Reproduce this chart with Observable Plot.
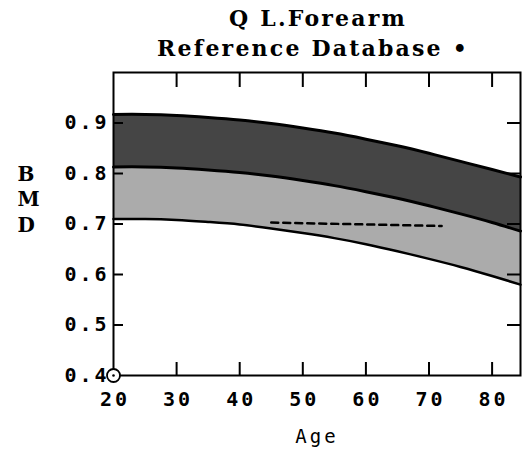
<!DOCTYPE html>
<html>
<head>
<meta charset="utf-8">
<script src="https://cdn.jsdelivr.net/npm/d3@7"></script>
<script src="https://cdn.jsdelivr.net/npm/@observablehq/plot@0.6"></script>
<style>
  html, body { margin: 0; padding: 0; background: #fff; }
  #chart svg { display: block; background: #fff; }
</style>
</head>
<body>
<div id="chart"></div>
<script>
// ---- data ----
const titleLine1 = "Q L.Forearm";
const titleLine2 = "Reference Database \u2022";
const xLabel = "Age";
const yLabel = "B\nM\nD";

const ages     = [20,    25,    30,    35,    40,    45,    50,    55,    60,    65,    70,    75,    80,    84.5];
const upperBMD = [0.917, 0.917, 0.915, 0.911, 0.906, 0.899, 0.890, 0.880, 0.868, 0.855, 0.840, 0.824, 0.808, 0.793];
const meanBMD  = [0.813, 0.813, 0.811, 0.807, 0.802, 0.795, 0.786, 0.776, 0.764, 0.751, 0.736, 0.720, 0.703, 0.686];
const lowerBMD = [0.710, 0.710, 0.708, 0.704, 0.699, 0.691, 0.682, 0.672, 0.660, 0.646, 0.631, 0.615, 0.597, 0.580];

const dashAges = [45, 72];
const dashBMD  = [0.703, 0.696];

const xTicks = [20, 30, 40, 50, 60, 70, 80];
const yTicks = [0.4, 0.5, 0.6, 0.7, 0.8, 0.9];
const innerXTicks = [30, 40, 50, 60, 70, 80];
const innerYTicks = [0.5, 0.6, 0.7, 0.8, 0.9];

const patient = [{age: 20, bmd: 0.4}];

// ---- build tables ----
const rows = ages.map((a, i) => ({age: a, upper: upperBMD[i], mean: meanBMD[i], lower: lowerBMD[i]}));
const dashRows = dashAges.map((a, i) => ({age: a, bmd: dashBMD[i]}));

const W = 522, H = 452, mL = 113, mR = 2, mT = 72, mB = 77;
const plotH = H - mT - mB;
const plotW = W - mL - mR;
const tickLen = 13;

const monoBold = "'DejaVu Sans Mono', monospace";
const slab = "'DejaVu Serif', serif";

const chart = Plot.plot({
  width: W,
  height: H,
  marginLeft: mL,
  marginRight: mR,
  marginTop: mT,
  marginBottom: mB,
  x: {domain: [20, 84.5], axis: null},
  y: {domain: [0.4, 1.0], axis: null},
  marks: [
    // bands
    Plot.areaY(rows, {x: "age", y1: "mean", y2: "upper", fill: "#454545", curve: "natural"}),
    Plot.areaY(rows, {x: "age", y1: "lower", y2: "mean", fill: "#ababab", curve: "natural"}),
    // dashed line inside the lower band
    Plot.line(dashRows, {x: "age", y: "bmd", stroke: "black", strokeWidth: 2.5, strokeDasharray: "7,5"}),
    // band boundary lines
    Plot.line(rows, {x: "age", y: "upper", stroke: "black", strokeWidth: 3, curve: "natural"}),
    Plot.line(rows, {x: "age", y: "mean", stroke: "black", strokeWidth: 3, curve: "natural"}),
    Plot.line(rows, {x: "age", y: "lower", stroke: "black", strokeWidth: 2.5, curve: "natural"}),
    // inward ticks
    Plot.ruleX(innerXTicks, {x: d => d, insetBottom: plotH - tickLen - 2, stroke: "black", strokeWidth: 2}),
    Plot.ruleX(innerXTicks, {x: d => d, insetTop: plotH - tickLen, stroke: "black", strokeWidth: 2}),
    Plot.ruleY(innerYTicks, {y: d => d, insetRight: plotW - 10, stroke: "black", strokeWidth: 2}),
    Plot.ruleY(innerYTicks, {y: d => d, insetLeft: plotW - 13, stroke: "black", strokeWidth: 2}),
    // frame
    Plot.frame({stroke: "black", strokeWidth: 2}),
    // tick labels
    Plot.text(xTicks, {x: d => d, frameAnchor: "bottom", dy: 24, dx: 1.5, text: d => String(d),
      fontFamily: monoBold, fontWeight: "bold", fontSize: 20, lineAnchor: "middle",
      fill: "black", className: "spaced"}),
    Plot.text(yTicks, {y: d => d, frameAnchor: "left", dx: -4, textAnchor: "end", text: d => d.toFixed(1),
      fontFamily: monoBold, fontWeight: "bold", fontSize: 20, lineAnchor: "middle", fill: "black",
      className: "spaced"}),
    // axis labels
    Plot.text([xLabel], {frameAnchor: "bottom", dy: 61, text: d => d, fontFamily: monoBold,
      fontSize: 19, lineAnchor: "middle", fill: "black", className: "spaced"}),
    Plot.text([yLabel], {frameAnchor: "left", dx: -96, dy: -26, text: d => d, fontFamily: slab,
      fontWeight: "bold", fontSize: 20, lineHeight: 1.27, lineAnchor: "middle", fill: "black"}),
    // titles
    Plot.text([titleLine1], {frameAnchor: "top", dy: -54, dx: 1, text: d => d, fontFamily: slab,
      fontWeight: "bold", fontSize: 22, lineAnchor: "middle", fill: "black", className: "title"}),
    Plot.text([titleLine2], {frameAnchor: "top", dy: -24, dx: -4, text: d => d, fontFamily: slab,
      fontWeight: "bold", fontSize: 22, lineAnchor: "middle", fill: "black", className: "title"}),
    // patient marker
    Plot.dot(patient, {x: "age", y: "bmd", r: 6.5, fill: "white", stroke: "black", strokeWidth: 1.8}),
    Plot.dot(patient, {x: "age", y: "bmd", r: 1.3, fill: "black"})
  ]
});

// letter spacing to match the wide pixel font of the reference
chart.querySelectorAll("g.spaced text").forEach(t => { t.style.letterSpacing = "3px"; });
chart.querySelectorAll("g.title text").forEach(t => { t.style.letterSpacing = "2.2px"; });
document.getElementById("chart").appendChild(chart);
</script>
</body>
</html>
